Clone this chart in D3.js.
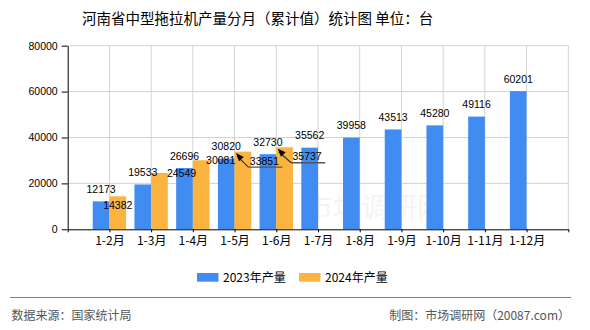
<!DOCTYPE html>
<html>
<head>
<meta charset="utf-8">
<script src="https://cdn.jsdelivr.net/npm/d3@7"></script>
<style>
html,body{margin:0;padding:0;background:#fff;}
svg{display:block;}
</style>
</head>
<body>
<svg id="chart" width="590" height="330"></svg>
<script>
const categories = ["1-2月","1-3月","1-4月","1-5月","1-6月","1-7月","1-8月","1-9月","1-10月","1-11月","1-12月"];
const values2023 = [12173,19533,26696,30820,32730,35562,39958,43513,45280,49116,60201];
const values2024 = [14382,24549,30081,33851,35737];
const yTicks = [0,20000,40000,60000,80000];
const seriesNames = ["2023年产量","2024年产量"];
const titleText = "河南省中型拖拉机产量分月（累计值）统计图 单位：台";
const sourceText = "数据来源：国家统计局";
const makerText = "制图：市场调研网（20087.com）";

// label layout nudges for the 2024 series (dx, dy, leader line)
const nudge2024 = [[0,9,false],[22,0,false],[19.5,0,false],[21.5,9,true],[22.5,9,true]];

const colors = ["#418CF0","#FCB441"];
const numFont = "'Liberation Sans', Arial, sans-serif";
const cjkFont = "'Noto Sans CJK SC', sans-serif";

const svg = d3.select("#chart");
const x = d3.scaleLinear().domain([0, categories.length + 1]).range([67.7, 568.3]);
const y = d3.scaleLinear().domain([0, 80000]).range([229.3, 45.7]);
const bw = (x(1) - x(0)) * 0.4;

// grid
const grid = svg.append("g");
grid.selectAll("line.h").data(yTicks.filter(d => d > 0)).enter().append("line")
  .attr("x1", x(0)).attr("x2", x(categories.length + 1))
  .attr("y1", d => y(d)).attr("y2", d => y(d))
  .attr("stroke", "#d3d3d3").attr("stroke-width", 1);
grid.selectAll("line.v").data(d3.range(1, categories.length + 2)).enter().append("line")
  .attr("x1", d => x(d)).attr("x2", d => x(d))
  .attr("y1", y(80000)).attr("y2", y(0))
  .attr("stroke", "#d3d3d3").attr("stroke-width", 1);

// watermark
svg.append("text").attr("x", 375).attr("y", 218).attr("text-anchor", "middle")
  .attr("font-family", cjkFont).attr("font-size", 28).attr("fill", "#000").attr("opacity", 0.04)
  .text("市场调研网");

// bars
svg.append("g").selectAll("rect").data(values2023).enter().append("rect")
  .attr("x", (d, i) => x(i + 1) - bw).attr("width", bw)
  .attr("y", d => y(d)).attr("height", d => y(0) - y(d))
  .attr("fill", colors[0]);
svg.append("g").selectAll("rect").data(values2024).enter().append("rect")
  .attr("x", (d, i) => x(i + 1)).attr("width", bw)
  .attr("y", d => y(d)).attr("height", d => y(0) - y(d))
  .attr("fill", colors[1]);

// axes
const yAxis = d3.axisLeft(y).tickValues(yTicks).tickSize(6).tickSizeOuter(0).tickFormat(d3.format("d"));
const gy = svg.append("g").attr("transform", `translate(${x(0)},0)`).call(yAxis);
gy.select(".domain").attr("stroke", "#000");
gy.selectAll(".tick line").attr("stroke", "#000");
gy.selectAll(".tick text").attr("font-family", numFont).attr("font-size", 10.5).attr("fill", "#000").attr("x", -10);

const xAxis = d3.axisBottom(x).tickValues(d3.range(0, categories.length + 2)).tickSize(3).tickSizeOuter(0)
  .tickFormat(d => (d >= 1 && d <= categories.length) ? categories[d - 1] : "");
const gx = svg.append("g").attr("transform", `translate(0,${y(0)})`).call(xAxis);
gx.select(".domain").attr("stroke", "#000");
gx.selectAll(".tick line").attr("stroke", "#000");
gx.selectAll(".tick text").attr("font-family", cjkFont).attr("font-size", 12).attr("fill", "#000").attr("y", 7);

// data labels 2023
svg.append("g").selectAll("text").data(values2023).enter().append("text")
  .attr("x", (d, i) => x(i + 1) - bw / 2).attr("y", d => y(d) - 8.5)
  .attr("text-anchor", "middle").attr("font-family", numFont).attr("font-size", 10.5).attr("fill", "#000")
  .text(d => d);

// data labels 2024
const lab = svg.append("g");
values2024.forEach((d, i) => {
  const cx = x(i + 1) + bw / 2 + nudge2024[i][0];
  const cy = y(d) + nudge2024[i][1];
  if (nudge2024[i][2]) {
    const tipX = x(i + 1) + 1.5, tipY = y(d) + 1.5;
    const ux = cx - 16, uy = cy + 6.5;
    lab.append("line").attr("x1", ux).attr("y1", uy).attr("x2", cx + 18).attr("y2", uy)
      .attr("stroke", "#555").attr("stroke-width", 1.4);
    lab.append("line").attr("x1", tipX + 1).attr("y1", tipY + 3).attr("x2", ux).attr("y2", uy)
      .attr("stroke", "#333").attr("stroke-width", 1.2);
    // arrow head
    const ang = Math.atan2(tipY - uy, tipX - ux);
    const L = 8, W = 3.2;
    const bx = tipX - L * Math.cos(ang), by = tipY - L * Math.sin(ang);
    const px = -Math.sin(ang) * W, py = Math.cos(ang) * W;
    lab.append("path").attr("d", `M${tipX},${tipY}L${bx + px},${by + py}L${bx - px},${by - py}Z`).attr("fill", "#000");
  }
  lab.append("text").attr("x", cx).attr("y", cy + 4)
    .attr("text-anchor", "middle").attr("font-family", numFont).attr("font-size", 10.5).attr("fill", "#000")
    .text(d);
});

// title
svg.append("text").attr("x", 82).attr("y", 23.5)
  .attr("font-family", cjkFont).attr("font-size", 14.5).attr("fill", "#000")
  .text(titleText);

// legend
const legX = [197, 299];
seriesNames.forEach((n, i) => {
  svg.append("rect").attr("x", legX[i]).attr("y", 273).attr("width", 21.5).attr("height", 8.7).attr("fill", colors[i]);
  svg.append("text").attr("x", legX[i] + 26).attr("y", 281.5)
    .attr("font-family", cjkFont).attr("font-size", 12).attr("fill", "#000").text(n);
});

// footer
svg.append("line").attr("x1", 10).attr("x2", 571).attr("y1", 297.5).attr("y2", 297.5)
  .attr("stroke", "#808080").attr("stroke-width", 1.2);
svg.append("text").attr("x", 11.5).attr("y", 320)
  .attr("font-family", cjkFont).attr("font-size", 12).attr("fill", "#555").text(sourceText);
svg.append("text").attr("x", 570).attr("y", 320).attr("text-anchor", "end")
  .attr("font-family", cjkFont).attr("font-size", 12).attr("fill", "#555").text(makerText);
</script>
</body>
</html>
